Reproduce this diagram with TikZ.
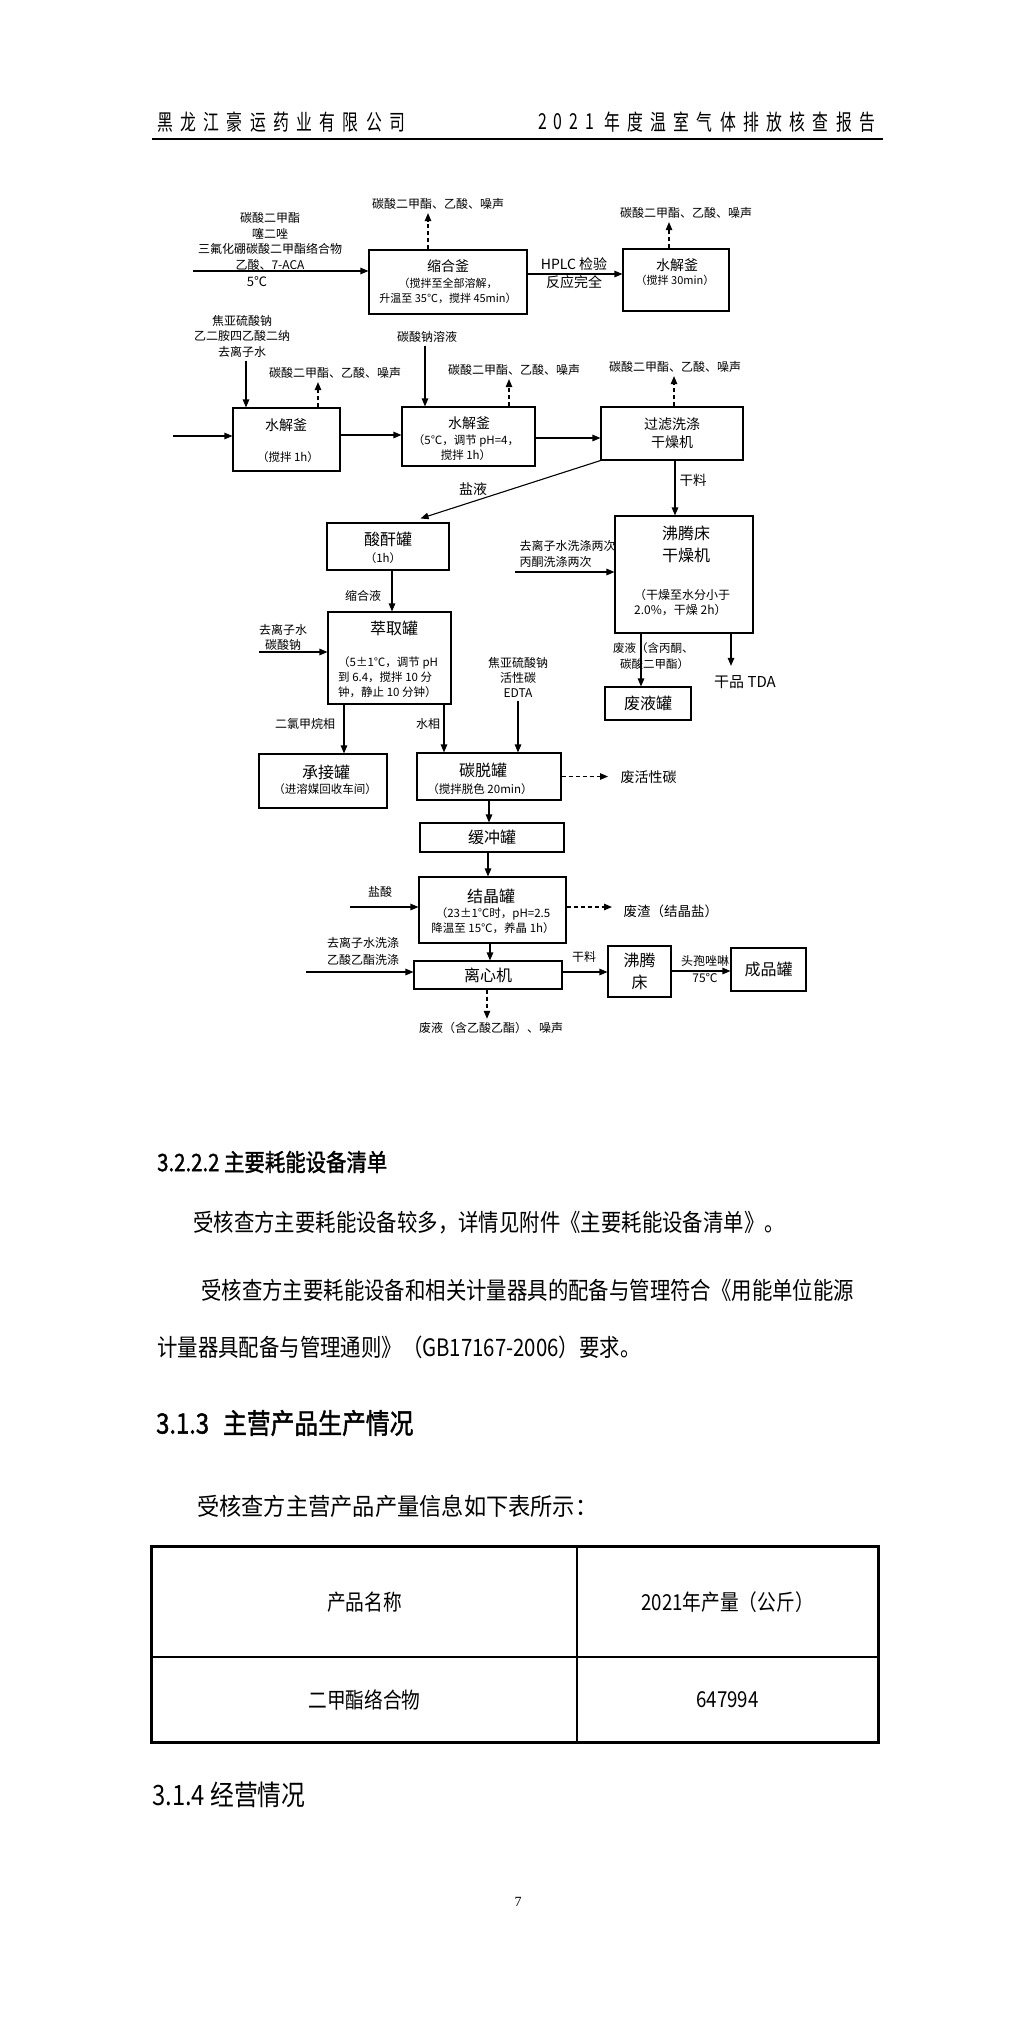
\documentclass[tikz,border=0pt]{standalone}
\usepackage{fontspec}
\usepackage{graphicx}
\setmainfont{Noto Sans CJK SC}
\newfontfamily\hdrfont{Noto Sans CJK SC}[FakeStretch=0.72]
\newfontfamily\txtfont{Noto Sans CJK SC}[FakeStretch=0.85]
\newfontfamily\hdbfont{Noto Sans CJK SC}[FakeStretch=0.85,FakeBold=1.5]
\newfontfamily\numfont{Liberation Serif}
\usetikzlibrary{positioning,arrows.meta}

\tikzset{
  tank/.style={draw, rectangle, line width=1.1pt, inner sep=0pt},
  flow/.style={-{Triangle[length=8pt,width=6.5pt]}, line width=1.1pt},
  vent/.style={flow, dash pattern=on 4pt off 3pt},
  ttl14/.style={font=\fontsize{14}{18}\selectfont, inner sep=0pt, align=center},
  ttl16/.style={font=\fontsize{16}{22}\selectfont, inner sep=0pt, align=center},
  note/.style={font=\fontsize{11.5}{15}\selectfont, inner sep=0pt, align=center},
  feed/.style={font=\fontsize{12}{15.5}\selectfont, align=center},
  tag/.style={font=\fontsize{12}{15}\selectfont, inner sep=0pt},
  para/.style={anchor=west, inner sep=0pt, font=\txtfont\fontsize{24}{24}\selectfont},
  cell/.style={draw, line width=1.2pt, font=\txtfont\fontsize{22}{22}\selectfont},
}

\begin{document}
\begin{tikzpicture}[x=1pt, y=-1pt]
\fill[white] (0,0) rectangle (1034,2035);
\useasboundingbox (0,0) rectangle (1034,2035);

% Header
\node[anchor=west, inner sep=0pt, font=\hdrfont\fontsize{22}{22}\selectfont] (hdl) at (157,122)
  {\makebox[248pt][s]{黑\hfill 龙\hfill 江\hfill 豪\hfill 运\hfill 药\hfill 业\hfill 有\hfill 限\hfill 公\hfill 司}};
\node[anchor=west, inner sep=0pt, font=\hdrfont\fontsize{22}{22}\selectfont] (hdy) at (538,122)
  {\makebox[56pt][s]{2\hfill 0\hfill 2\hfill 1}};
\node[anchor=west, inner sep=0pt, font=\hdrfont\fontsize{22}{22}\selectfont] (hdr) at (604,122)
  {\makebox[271pt][s]{年\hfill 度\hfill 温\hfill 室\hfill 气\hfill 体\hfill 排\hfill 放\hfill 核\hfill 查\hfill 报\hfill 告}};
\draw[line width=2.2pt] (152,139) -- (883,139);

% Vessels
\node[tank, minimum width=158pt, minimum height=64pt] (suohe) at (448,282) {};
\node[tank, minimum width=106pt, minimum height=62pt] (shui0) at (676,280) {};
\node[tank, minimum width=107pt, minimum height=63pt] (shui1) at (286.5,439.5) {};
\node[tank, minimum width=133pt, minimum height=59pt] (shui2) at (468.5,436.5) {};
\node[tank, ttl14, minimum width=142pt, minimum height=53pt] (guolv) at (672,433.5) {过滤洗涤\\干燥机};
\node[tank, minimum width=122pt, minimum height=47pt] (suangan) at (388,546.5) {};
\node[tank, minimum width=138pt, minimum height=117pt] (ganzao) at (684,574.5) {};
\node[tank, ttl16, minimum width=86pt, minimum height=33pt] (feiye) at (648,703.5) {废液罐};
\node[tank, minimum width=123pt, minimum height=92pt] (cuiqu) at (389.5,658) {};
\node[tank, minimum width=128pt, minimum height=54pt] (chengjie) at (323,781) {};
\node[tank, minimum width=144pt, minimum height=47pt] (tantuo) at (489,776.5) {};
\node[tank, ttl16, minimum width=144pt, minimum height=29pt] (huanchong) at (492,837.5) {缓冲罐};
\node[tank, minimum width=147pt, minimum height=66pt] (jiejing) at (492.5,910) {};
\node[tank, ttl16, minimum width=148pt, minimum height=28pt] (lixin) at (488,975) {离心机};
\node[tank, ttl16, minimum width=63pt, minimum height=51pt] (feiteng) at (639.5,971.5) {沸腾\\床};
\node[tank, ttl16, minimum width=75pt, minimum height=43pt] (chengpin) at (768.5,969.5) {成品罐};

% Vessel texts
\node[ttl14] (suoheT) at (448,266) {缩合釜};
\node[note, font=\fontsize{11}{14.5}\selectfont] (suoheN) at (448,291) {（搅拌至全部溶解，\\升温至 35℃，搅拌 45min）};
\node[ttl14] (shui0T) at (677,265) {水解釜};
\node[note, font=\fontsize{11}{14.5}\selectfont] (shui0N) at (675,280) {（搅拌 30min）};
\node[ttl14] (shui1T) at (286,425) {水解釜};
\node[note] (shui1N) at (288,457) {（搅拌 1h）};
\node[ttl14] (shui2T) at (469,423) {水解釜};
\node[note] (shui2N) at (466,447.5) {（5℃，调节 pH=4，\\搅拌 1h）};
\node[ttl16] (sganT) at (388,539) {酸酐罐};
\node[note] (sganN) at (383,558) {（1h）};
\node[ttl16] (ganzaoT) at (686,544) {沸腾床\\干燥机};
\node[note, align=left, anchor=west, font=\fontsize{12}{15}\selectfont] (ganzaoN) at (634,602.5) {（干燥至水分小于\\2.0\%，干燥 2h）};
\node[ttl16] (cuiquT) at (394,628) {萃取罐};
\node[note, align=left, anchor=west] (cuiquN) at (338,677.5) {（5±1℃，调节 pH\\到 6.4，搅拌 10 分\\钟，静止 10 分钟）};
\node[ttl16] (cjT) at (326,772) {承接罐};
\node[note] (cjN) at (325,789) {（进溶媒回收车间）};
\node[ttl16] (ttT) at (483,770) {碳脱罐};
\node[note] (ttN) at (480,789) {（搅拌脱色 20min）};
\node[ttl16] (jjT) at (491,896) {结晶罐};
\node[note] (jjN) at (493,920.5) {（23±1℃时，pH=2.5\\降温至 15℃，养晶 1h）};

% Feeds and outlets
\node[feed, font=\fontsize{12}{15.7}\selectfont] (feed1t) at (270,241.5) {碳酸二甲酯\\噻二唑\\三氟化硼碳酸二甲酯络合物\\乙酸、7-ACA};
\node[tag, font=\fontsize{13}{15}\selectfont] (temp1) at (257,282) {5℃};
\node[feed, font=\fontsize{14}{18}\selectfont] (hplc) at (574,273) {HPLC 检验\\反应完全};
\node[feed] (gas1) at (438,204) {碳酸二甲酯、乙酸、噪声};
\node[feed] (gas2) at (686,213) {碳酸二甲酯、乙酸、噪声};
\node[feed] (feed2) at (242,336) {焦亚硫酸钠\\乙二胺四乙酸二纳\\去离子水};
\node[feed] (gas3) at (335,373) {碳酸二甲酯、乙酸、噪声};
\node[feed] (feed4) at (427,337) {碳酸钠溶液};
\node[feed] (gas4) at (514,370) {碳酸二甲酯、乙酸、噪声};
\node[feed] (gas5) at (675,367) {碳酸二甲酯、乙酸、噪声};
\node[tag, font=\fontsize{14}{16}\selectfont] (yanye) at (473,489) {盐液};
\node[tag, font=\fontsize{13.5}{16}\selectfont] (ganliao1) at (693,480) {干料};
\node[tag] (suoheye) at (363,596) {缩合液};
\node[feed, align=left, anchor=west, font=\fontsize{12}{16}\selectfont] (feed5t) at (516,554) {去离子水洗涤两次\\丙酮洗涤两次};
\node[feed, align=left, anchor=west, inner sep=0pt, font=\fontsize{11.5}{16}\selectfont] (feiyeL) at (613,656) {废液（含丙酮、\\\hspace*{7pt}碳酸二甲酯）};
\node[feed, font=\fontsize{15}{16}\selectfont] (tda) at (745,682) {干品 TDA};
\node[feed, font=\fontsize{12}{15}\selectfont] (feed6t) at (283,637.5) {去离子水\\碳酸钠};
\node[tag] (dcm) at (305,724) {二氯甲烷相};
\node[tag] (shuixiang) at (428,724) {水相};
\node[feed, font=\fontsize{12}{15}\selectfont] (feed7) at (518,677) {焦亚硫酸钠\\活性碳\\EDTA};
\node[feed, anchor=west, font=\fontsize{14}{16}\selectfont] (tanzha) at (617,777) {废活性碳};
\node[tag] (yansuan) at (380,892) {盐酸};
\node[feed, anchor=west, font=\fontsize{13.5}{16}\selectfont] (salt) at (620,911) {废渣（结晶盐）};
\node[feed, font=\fontsize{12}{17}\selectfont] (feed9t) at (363,951.5) {去离子水洗涤\\乙酸乙酯洗涤};
\node[feed] (waste) at (491,1028) {废液（含乙酸乙酯）、噪声};
\node[tag] (ganliao2) at (584,957) {干料};
\node[tag, align=center, font=\fontsize{12}{17}\selectfont] (tbz) at (705,969.5) {头孢唑啉\\75℃};

% Flows
\coordinate (feed1) at (193,271);
\draw[flow] (feed1) -- (feed1 -| suohe.west);
\draw[flow] ([yshift=8pt]suohe.east) -- ([yshift=8pt]suohe.east -| shui0.west);
\draw[vent] ([xshift=-20pt]suohe.north) -- ([xshift=-20pt]suohe.north |- gas1.south);
\draw[vent] ([xshift=-7pt]shui0.north) -- ([xshift=-7pt]shui0.north |- gas2.south);
\draw[flow] ([xshift=4pt]feed2.south) -- ([xshift=4pt]feed2.south |- shui1.north);
\coordinate (feed3) at (173,436);
\draw[flow] (feed3) -- (feed3 -| shui1.west);
\draw[vent] ([xshift=31.5pt]shui1.north) -- ([xshift=31.5pt]shui1.north |- gas3.south);
\draw[flow] ([yshift=4.5pt]shui1.east) -- ([yshift=4.5pt]shui1.east -| shui2.west);
\draw[flow] ([xshift=-2pt]feed4.south) -- ([xshift=-2pt]feed4.south |- shui2.north);
\draw[vent] ([xshift=40.5pt]shui2.north) -- ([xshift=40.5pt]shui2.north |- gas4.south);
\draw[flow] ([yshift=-1.5pt]shui2.east) -- ([yshift=-1.5pt]shui2.east -| guolv.west);
\draw[vent] ([xshift=2pt]guolv.north) -- ([xshift=2pt]guolv.north |- gas5.south);
\draw[flow] (guolv.south west) -- ([xshift=-29pt,yshift=4pt]suangan.north east);
\draw[flow] ([xshift=3pt]guolv.south) -- ([xshift=3pt]guolv.south |- ganzao.north);
\draw[flow] ([xshift=4pt]suangan.south) -- ([xshift=4pt]suangan.south |- cuiqu.north);
\coordinate (feed5) at (515,572);
\draw[flow] (feed5) -- (feed5 -| ganzao.west);
\draw[flow] ([xshift=-43pt]ganzao.south) -- ([xshift=-43pt]ganzao.south |- feiye.north);
\draw[flow, shorten >=6pt] ([xshift=47pt]ganzao.south) -- ([xshift=47pt]ganzao.south |- tda.north);
\coordinate (feed6) at (259,652);
\draw[flow] (feed6) -- (feed6 -| cuiqu.west);
\draw[flow] ([xshift=-45.5pt]cuiqu.south) -- ([xshift=-45.5pt]cuiqu.south |- chengjie.north);
\draw[flow] ([xshift=54.5pt]cuiqu.south) -- ([xshift=54.5pt]cuiqu.south |- tantuo.north);
\draw[flow] (feed7.south) -- (feed7.south |- tantuo.north);
\draw[vent, shorten >=9pt] (tantuo.east) -- (tantuo.east -| tanzha.west);
\draw[flow] (tantuo.south) -- (tantuo.south |- huanchong.north);
\draw[flow] ([xshift=-4pt]huanchong.south) -- ([xshift=-4pt]huanchong.south |- jiejing.north);
\coordinate (feed8) at (350,907);
\draw[flow] (feed8) -- (feed8 -| jiejing.west);
\draw[vent, shorten >=8pt] ([yshift=3pt]jiejing.east) -- ([yshift=3pt]jiejing.east -| salt.west);
\draw[flow] ([xshift=-2.5pt]jiejing.south) -- ([xshift=-2.5pt]jiejing.south |- lixin.north);
\coordinate (feed9) at (306,972);
\draw[flow] (feed9) -- (feed9 -| lixin.west);
\draw[vent] ([xshift=-1pt]lixin.south) -- ([xshift=-1pt]lixin.south |- waste.north);
\draw[flow] ([yshift=3pt]lixin.east) -- ([yshift=3pt]lixin.east -| feiteng.west);
\draw[flow] ([yshift=0.5pt]feiteng.east) -- ([yshift=0.5pt]feiteng.east -| chengpin.west);

% Text
\node[para, font=\hdbfont\fontsize{24}{24}\selectfont] (h3222) at (157,1162) {3.2.2.2 主要耗能设备清单};
\node[para] (p1) at (193,1223) {受核查方主要耗能设备较多，详情见附件《主要耗能设备清单》。};
\node[para] (p2a) at (201,1290) {受核查方主要耗能设备和相关计量器具的配备与管理符合《用能单位能源};
\node[para] (p2b) at (157,1347) {计量器具配备与管理通则》（GB17167-2006）要求。};
\node[para, font=\hdbfont\fontsize{28}{28}\selectfont] (h313) at (156,1423) {3.1.3\enspace 主营产品生产情况};
\node[para] (p3) at (197,1506) {\scalebox{1.09}[1]{受核查方主营产品产量信息如下表所示：}};

% Table
\node[cell, minimum width=425pt, minimum height=110pt] (c11) at (364.5,1602) {产品名称};
\node[cell, minimum width=301pt, minimum height=110pt] (c12) at (727.5,1602) {2021年产量（公斤）};
\node[cell, minimum width=425pt, minimum height=85pt] (c21) at (364.5,1699.5) {二甲酯络合物};
\node[cell, minimum width=301pt, minimum height=85pt] (c22) at (727.5,1699.5) {647994};
\draw[line width=2.6pt] (c11.north west) rectangle (c22.south east);

\node[para, font=\txtfont\fontsize{28}{28}\selectfont] (h314) at (152,1795) {3.1.4 经营情况};
\node[font=\numfont\fontsize{14}{14}\selectfont] (pgno) at (518,1902) {7};

\end{tikzpicture}
\end{document}
